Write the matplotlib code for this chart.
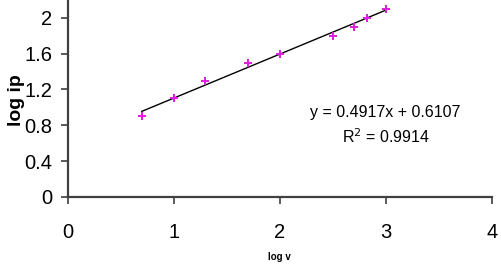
import numpy as np
import matplotlib
matplotlib.use('Agg')
import matplotlib.pyplot as plt

# data
log_v = [0.70, 1.00, 1.30, 1.70, 2.00, 2.50, 2.70, 2.82, 3.00]
log_ip = [0.90, 1.10, 1.30, 1.50, 1.60, 1.80, 1.90, 2.00, 2.10]
slope = 0.4917
intercept = 0.6107
r2 = 0.9914
x_ticks = [0, 1, 2, 3, 4]
y_ticks = [0, 0.4, 0.8, 1.2, 1.6, 2]
y_tick_labels = ['0', '0.4', '0.8', '1.2', '1.6', '2']

plt.rcParams['font.family'] = ['Liberation Sans', 'DejaVu Sans']

fig = plt.figure(figsize=(5.02, 2.64), dpi=100)
ax = fig.add_axes([0.1345, 0.2545, 0.845, 0.7455])

# trend line over the data range
x_fit = np.array([min(log_v), max(log_v)])
ax.plot(x_fit, slope * x_fit + intercept, color='black', lw=1.0, zorder=2)
ax.plot(log_v, log_ip, linestyle='none', marker='P', markersize=6,
        color='#e020e0', markeredgewidth=0, zorder=3)

ax.set_xlim(0, 4)
ax.set_ylim(0, 2.2)
ax.set_xticks(x_ticks)
ax.set_yticks(y_ticks)
ax.set_yticklabels(y_tick_labels)
ax.tick_params(axis='both', direction='out', length=5, width=1.2,
               color='#404040', labelsize=14.5, pad=14)
ax.tick_params(axis='y', pad=6)

for side in ['top', 'right']:
    ax.spines[side].set_visible(False)
for side in ['left', 'bottom']:
    ax.spines[side].set_color('#404040')
    ax.spines[side].set_linewidth(1.6)

ax.set_ylabel('log ip', fontsize=14, fontweight='bold')
ax.yaxis.set_label_coords(-0.10, 0.49)
ax.set_xlabel('log v', fontsize=7, fontweight='bold')
ax.xaxis.set_label_coords(0.5, -0.28)

ax.text(3.0, 0.94, 'y = 0.4917x + 0.6107', ha='center', va='center', fontsize=11.5)
ax.text(3.0, 0.67, 'R$^2$ = 0.9914', ha='center', va='center', fontsize=11.5)

fig.savefig('out.png', dpi=100)
